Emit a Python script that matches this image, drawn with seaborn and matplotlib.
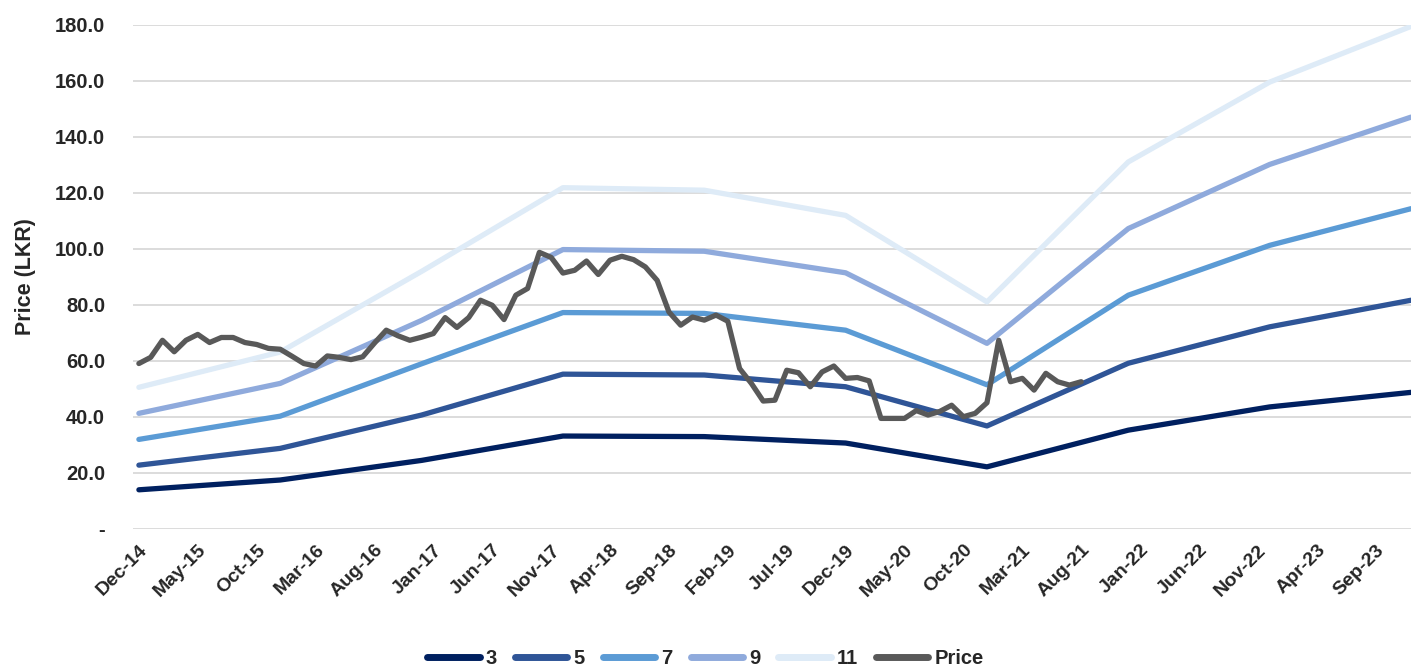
import matplotlib
matplotlib.use("Agg")
import matplotlib.pyplot as plt
import pandas as pd
import seaborn as sns

# ---------------- data ----------------
band_dates = pd.date_range("2014-12-01", periods=10, freq="12MS")   # Dec-14 .. Dec-23
band_3 = [14.0, 17.5, 24.5, 33.2, 33.0, 30.7, 22.2, 35.3, 43.6, 48.8]
band_5 = [22.8, 28.8, 40.7, 55.3, 55.0, 50.8, 36.8, 59.2, 72.2, 81.7]
band_7 = [32.0, 40.3, 59.0, 77.3, 77.0, 71.0, 51.5, 83.5, 101.3, 114.4]
band_9 = [41.3, 52.0, 74.5, 99.8, 99.2, 91.5, 66.3, 107.3, 130.2, 147.1]
band_11 = [50.6, 63.2, 92.0, 121.9, 121.0, 112.0, 81.1, 131.1, 159.6, 179.5]

price_dates = pd.date_range("2014-12-01", periods=81, freq="MS")    # Dec-14 .. Aug-21
price = [59.1, 61.3, 67.4, 63.3, 67.4, 69.5, 66.6, 68.4, 68.4, 66.6,
         65.9, 64.5, 64.2, 61.7, 59.1, 58.2, 61.8, 61.3, 60.5, 61.5,
         66.4, 71.0, 69.0, 67.4, 68.5, 69.8, 75.5, 72.0, 75.5, 81.7,
         79.9, 74.8, 83.5, 85.9, 98.8, 97.0, 91.4, 92.4, 95.7, 90.9,
         96.0, 97.4, 96.2, 93.6, 88.8, 77.5, 72.8, 75.7, 74.6, 76.4,
         74.2, 57.3, 52.0, 45.7, 46.0, 56.7, 55.8, 50.8, 56.1, 58.2,
         53.8, 54.1, 52.9, 39.5, 39.5, 39.5, 42.3, 40.7, 42.0, 44.2,
         40.1, 41.3, 45.1, 67.4, 52.6, 53.8, 49.6, 55.6, 52.6, 51.4,
         52.6]

tick_dates = pd.date_range("2014-12-01", periods=22, freq="5MS")    # Dec-14 .. Sep-23
y_ticks = [0, 20, 40, 60, 80, 100, 120, 140, 160, 180]


def month_index(dates):
    # months elapsed since Dec-14, the axis runs on a monthly base
    return (dates.year - 2014) * 12 + dates.month - 12


bands = pd.DataFrame({"3": band_3, "5": band_5, "7": band_7,
                      "9": band_9, "11": band_11})
bands["m"] = month_index(band_dates)
bands = bands.melt(id_vars="m", var_name="series", value_name="value")
px = pd.DataFrame({"m": month_index(price_dates), "value": price, "series": "Price"})
df = pd.concat([bands, px], ignore_index=True)

colors = {"3": "#002060", "5": "#2F5597", "7": "#5B9BD5",
          "9": "#8FAADC", "11": "#DEEBF7", "Price": "#595959"}

# ---------------- chart ----------------
sns.set_theme(style="white")
plt.rcParams["font.family"] = ["Liberation Sans", "DejaVu Sans"]
plt.rcParams["font.weight"] = "bold"

fig = plt.figure(figsize=(14.11, 6.66), dpi=100)
ax = fig.add_axes([133 / 1411, 1 - 529 / 666, 1 - 133 / 1411, (529 - 25) / 666])

sns.lineplot(data=df, x="m", y="value", hue="series", palette=colors,
             hue_order=list(colors), linewidth=3.8, ax=ax, legend=False)
for ln in ax.lines:
    ln.set_solid_joinstyle("round")
    ln.set_solid_capstyle("round")

ax.set_xlim(-0.5, 108)
ax.set_ylim(0, 180)
ax.set_yticks(y_ticks)
ax.set_yticklabels(["-"] + [f"{v:.1f}" for v in y_ticks[1:]],
                   fontsize=14.5, fontweight="bold")
ax.set_xticks(month_index(tick_dates))
ax.set_xticklabels(tick_dates.strftime("%b-%y"), rotation=45, ha="right",
                   rotation_mode="anchor", fontsize=14, fontweight="bold")
ax.tick_params(axis="both", length=0)
ax.tick_params(axis="y", pad=20)
ax.tick_params(axis="x", pad=9)
ax.yaxis.grid(True, color="#D9D9D9", linewidth=1.3)
ax.set_axisbelow(True)
for s in ax.spines.values():
    s.set_visible(False)
ax.set_xlabel("")
ax.set_ylabel("Price (LKR)", fontsize=15.5, fontweight="bold", labelpad=14)

handles = [plt.Line2D([], [], color=c, linewidth=5, solid_capstyle="round")
           for c in colors.values()]
fig.legend(handles, list(colors), loc="lower center", ncol=6,
           bbox_to_anchor=(0.5, -0.03), frameon=False, handlelength=2.6,
           columnspacing=0.9, handletextpad=0.3,
           prop={"size": 14.5, "weight": "bold"})

plt.savefig("out.png", dpi=100)
